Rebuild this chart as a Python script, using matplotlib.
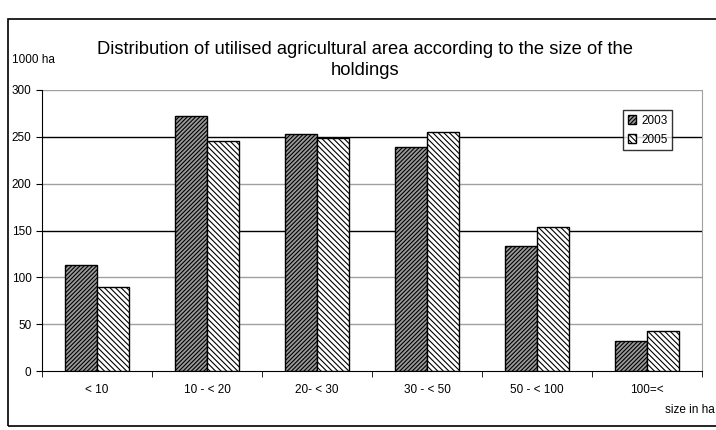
import matplotlib
matplotlib.use("Agg")
import matplotlib.pyplot as plt
from matplotlib.patches import Rectangle
import numpy as np

plt.rcParams['font.family'] = ['Liberation Sans', 'DejaVu Sans']
plt.rcParams['hatch.linewidth'] = 0.8

categories = ["< 10", "10 - < 20", "20- < 30", "30 - < 50", "50 - < 100", "100=<"]
area_2003 = [113, 272, 253, 239, 133, 32]
area_2005 = [90, 246, 249, 255, 154, 43]
yticks = [0, 50, 100, 150, 200, 250, 300]

fig = plt.figure(figsize=(7.16, 4.30), dpi=100)
ax = fig.add_axes([0.0587, 0.1372, 0.9218, 0.6535])

# outer chart border
fig.patches.append(Rectangle((8 / 716, 4 / 430), 1.2, 407 / 430, transform=fig.transFigure,
                             fill=False, edgecolor='black', linewidth=1.2))

x = np.arange(len(categories))
w = 0.29
ax.bar(x - w / 2, area_2003, w, facecolor='#9a9a9a', edgecolor='black', hatch='////////',
       linewidth=1, label='2003', zorder=3)
ax.bar(x + w / 2, area_2005, w, facecolor='white', edgecolor='black', hatch='\\\\\\\\\\\\',
       linewidth=1, label='2005', zorder=3)

for v in yticks[1:]:
    c = 'black' if v in (150, 250) else '#a0a0a0'
    ax.axhline(v, color=c, linewidth=1, zorder=1)

ax.set_xlim(-0.5, len(categories) - 0.5)
ax.set_ylim(0, 300)
ax.set_yticks(yticks)
ax.set_xticks(x)
ax.set_xticklabels(categories, fontsize=8.5)
ax.tick_params(axis='x', length=0, pad=9)
ax.tick_params(axis='y', labelsize=8.5, length=4, direction='out')
ax.set_xticks(np.arange(-0.5, len(categories) + 0.5, 1), minor=True)
ax.tick_params(axis='x', which='minor', length=4, direction='out')

ax.spines['top'].set_visible(False)
ax.spines['right'].set_color('#a0a0a0')

ax.legend(loc='upper left', bbox_to_anchor=(0.872, 0.95), fontsize=8.5, frameon=True,
          fancybox=False, edgecolor='black', handlelength=0.7, handleheight=0.7,
          handletextpad=0.4, borderpad=0.4, labelspacing=0.6)

fig.text(0.51, 0.86, "Distribution of utilised agricultural area according to the size of the\nholdings",
         ha='center', va='center', fontsize=13.2, linespacing=1.35)
fig.text(12 / 716, 1 - 60 / 430, "1000 ha", ha='left', va='center', fontsize=8.5)
fig.text(715 / 716, 1 - 410 / 430, "size in ha", ha='right', va='center', fontsize=8.5)

fig.savefig("out.png", dpi=100)
